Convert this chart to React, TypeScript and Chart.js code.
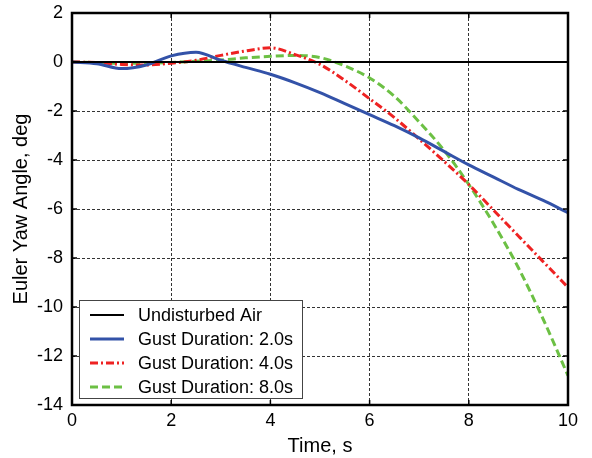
import React, { useEffect, useRef } from "react";
import { Chart, registerables } from "chart.js";

Chart.register(...registerables);

const time = [0, 0.5, 1, 1.5, 2, 2.5, 3, 3.5, 4, 4.5, 5, 5.5, 6, 6.5, 7, 7.5, 8, 8.5, 9, 9.5, 10];
const undisturbed = [0, 0, 0, 0, 0, 0, 0, 0, 0, 0, 0, 0, 0, 0, 0, 0, 0, 0, 0, 0, 0];
const gust2 = [0, -0.07, -0.27, -0.12, 0.25, 0.4, 0.07, -0.22, -0.5, -0.85, -1.25, -1.7, -2.15, -2.6, -3.1, -3.65, -4.2, -4.7, -5.2, -5.65, -6.15];
const gust4 = [0, -0.02, -0.1, -0.12, -0.05, 0.07, 0.27, 0.45, 0.58, 0.3, -0.1, -0.75, -1.5, -2.27, -3.15, -4.05, -5.0, -6.05, -7.1, -8.15, -9.2];
const gust8 = [0, -0.02, -0.05, -0.05, -0.02, 0.03, 0.08, 0.17, 0.23, 0.27, 0.18, -0.16, -0.65, -1.4, -2.45, -3.6, -5.0, -6.6, -8.4, -10.5, -12.8];

const seriesNames = ["Undisturbed Air", "Gust Duration: 2.0s", "Gust Duration: 4.0s", "Gust Duration: 8.0s"];
const xTicks = [0, 2, 4, 6, 8, 10];
const yTicks = [-14, -12, -10, -8, -6, -4, -2, 0, 2];

const FONT = "Arial, 'Liberation Sans', sans-serif";

const pts = (ys: number[]) => time.map((t, i) => ({ x: t, y: ys[i] }));

const framePlugin = {
  id: "framePlugin",
  afterDatasetsDraw(chart: any) {
    const { ctx, chartArea: a, scales } = chart;
    ctx.save();
    ctx.strokeStyle = "#000";
    ctx.lineWidth = 1.5;
    ctx.setLineDash([]);
    const tl = 5;
    xTicks.forEach((v) => {
      const px = scales.x.getPixelForValue(v);
      ctx.beginPath();
      ctx.moveTo(px, a.bottom);
      ctx.lineTo(px, a.bottom - tl);
      ctx.moveTo(px, a.top);
      ctx.lineTo(px, a.top + tl);
      ctx.stroke();
    });
    yTicks.forEach((v) => {
      const py = scales.y.getPixelForValue(v);
      ctx.beginPath();
      ctx.moveTo(a.left, py);
      ctx.lineTo(a.left + tl, py);
      ctx.moveTo(a.right, py);
      ctx.lineTo(a.right - tl, py);
      ctx.stroke();
    });
    ctx.lineWidth = 2.5;
    ctx.strokeRect(a.left, a.top, a.right - a.left, a.bottom - a.top);

    // legend
    const bx = a.left + 7;
    const by = a.bottom - 105;
    const bw = 223;
    const bh = 98;
    ctx.fillStyle = "#fff";
    ctx.fillRect(bx, by, bw, bh);
    ctx.lineWidth = 1;
    ctx.strokeStyle = "#444";
    ctx.strokeRect(bx + 0.5, by + 0.5, bw, bh);
    ctx.font = `18px ${FONT}`;
    ctx.textBaseline = "middle";
    ctx.textAlign = "left";
    chart.data.datasets.forEach((ds: any, i: number) => {
      const cy = by + 15 + i * 24;
      ctx.beginPath();
      ctx.strokeStyle = ds.borderColor;
      ctx.lineWidth = ds.borderWidth;
      ctx.setLineDash(ds.borderDash || []);
      ctx.moveTo(bx + 11, cy);
      ctx.lineTo(bx + 45, cy);
      ctx.stroke();
      ctx.setLineDash([]);
      ctx.fillStyle = "#000";
      ctx.fillText(ds.label, bx + 59, cy + 1);
    });
    ctx.restore();
  },
};

export default function App() {
  const ref = useRef<HTMLCanvasElement | null>(null);
  useEffect(() => {
    if (!ref.current) return;
    const chart = new Chart(ref.current, {
      type: "line",
      data: {
        datasets: [
          { label: seriesNames[0], data: pts(undisturbed), borderColor: "#000000", borderWidth: 2, pointRadius: 0, tension: 0 },
          { label: seriesNames[1], data: pts(gust2), borderColor: "#3352a8", borderWidth: 3, pointRadius: 0, cubicInterpolationMode: "monotone" },
          { label: seriesNames[2], data: pts(gust4), borderColor: "#ee2222", borderWidth: 3, borderDash: [8, 3, 2, 3], pointRadius: 0, cubicInterpolationMode: "monotone" },
          { label: seriesNames[3], data: pts(gust8), borderColor: "#6cc044", borderWidth: 3, borderDash: [8, 4], pointRadius: 0, cubicInterpolationMode: "monotone" },
        ],
      },
      options: {
        responsive: false,
        animation: false,
        layout: { padding: { top: 13, right: 24, left: 0, bottom: 0 } },
        plugins: { legend: { display: false }, tooltip: { enabled: false } },
        scales: {
          x: {
            type: "linear",
            min: 0,
            max: 10,
            afterBuildTicks: (s: any) => { s.ticks = xTicks.map((v) => ({ value: v })); },
            afterFit: (s: any) => { s.height = 53; s.paddingLeft = 0; s.paddingRight = 0; },
            grid: { color: "#333", lineWidth: 1, drawTicks: false } as any,
            border: { display: false, dash: [3, 2] } as any,
            ticks: { color: "#000", font: { size: 18, family: FONT }, padding: 5, maxRotation: 0 },
            title: { display: true, text: "Time, s", color: "#000", font: { size: 20, family: FONT }, padding: { top: 0, bottom: 0 } },
          },
          y: {
            min: -14,
            max: 2,
            afterBuildTicks: (s: any) => { s.ticks = yTicks.map((v) => ({ value: v })); },
            afterFit: (s: any) => { s.width = 72; s.paddingTop = 0; s.paddingBottom = 0; },
            grid: { color: "#333", lineWidth: 1, drawTicks: false } as any,
            border: { display: false, dash: [3, 2] } as any,
            ticks: { color: "#000", font: { size: 18, family: FONT }, padding: 9 },
            title: { display: true, text: "Euler Yaw Angle, deg", color: "#000", font: { size: 20, family: FONT }, padding: { top: 9, bottom: 0 } },
          },
        },
      },
      plugins: [framePlugin],
    } as any);
    return () => chart.destroy();
  }, []);
  return (
    <div style={{ position: "fixed", left: 0, top: 0, width: 592, height: 458, background: "#fff" }}>
      <canvas ref={ref} width={592} height={458} />
    </div>
  );
}
